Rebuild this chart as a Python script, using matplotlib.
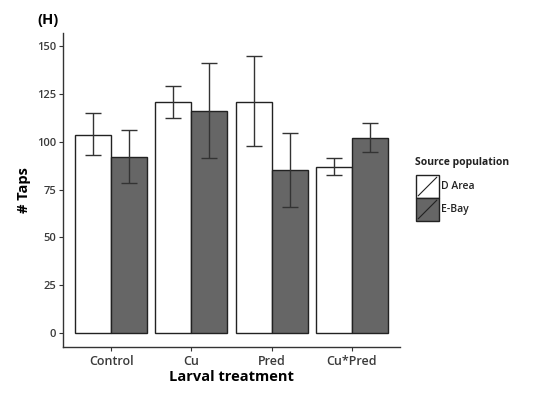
import matplotlib

matplotlib.use("Agg")
import matplotlib.pyplot as plt
import numpy as np
from matplotlib.patches import Rectangle
from matplotlib.lines import Line2D

treatments = ["Control", "Cu", "Pred", "Cu*Pred"]
populations = ["D Area", "E-Bay"]
d_area_mean = [103.7, 120.8, 121.1, 86.9]
d_area_low = [93.2, 112.4, 97.7, 82.7]
d_area_high = [114.9, 129.5, 144.9, 91.8]
e_bay_mean = [92.1, 116.3, 85.5, 101.9]
e_bay_low = [78.5, 91.8, 66.2, 94.5]
e_bay_high = [106.1, 141.4, 104.7, 110.0]
y_ticks = [0, 25, 50, 75, 100, 125, 150]

fill_colors = ["#ffffff", "#666666"]
edge_color = "#222222"
text_gray = "#3a3a3a"

plt.rcParams["font.family"] = ["Open Sans", "DejaVu Sans"]

fig = plt.figure(figsize=(5.36, 3.93), dpi=100)
ax = fig.add_axes([63 / 536, 1 - 347 / 393, (400 - 63) / 536, (347 - 33) / 393])

x = np.arange(1, len(treatments) + 1)
width = 0.45
series = [
    (d_area_mean, d_area_low, d_area_high),
    (e_bay_mean, e_bay_low, e_bay_high),
]
for idx, (mean, low, high) in enumerate(series):
    pos = x + (idx - 0.5) * width
    mean = np.array(mean)
    ax.bar(pos, mean, width=width, color=fill_colors[idx], edgecolor=edge_color, linewidth=1.0, zorder=2)
    yerr = np.vstack([mean - np.array(low), np.array(high) - mean])
    ax.errorbar(pos, mean, yerr=yerr, fmt="none", ecolor="#333333", elinewidth=1.0, capsize=5.5, capthick=1.0, zorder=3)

ax.set_xlim(0.4, 4.6)
ax.set_ylim(-7.3, 157)
ax.set_xticks(x, treatments)
ax.set_yticks(y_ticks)
ax.tick_params(axis="both", colors="#333333", labelcolor=text_gray, labelsize=8, length=3, width=0.8, pad=2)
ax.tick_params(axis="x", labelsize=9, pad=3)
for lbl in ax.get_xticklabels() + ax.get_yticklabels():
    lbl.set_fontweight("semibold")
for side in ["top", "right"]:
    ax.spines[side].set_visible(False)
for side in ["left", "bottom"]:
    ax.spines[side].set_color("#333333")
    ax.spines[side].set_linewidth(1.0)

ax.set_xlabel("Larval treatment", fontsize=10.5, fontweight="bold", labelpad=1)
ax.set_ylabel("# Taps", fontsize=10.5, fontweight="bold", labelpad=4)
fig.text(37 / 536, 1 - 20 / 393, "(H)", fontsize=10.5, fontweight="bold", va="center", ha="left")

# legend drawn by hand, ggplot-style keys with a diagonal slash
fig.text(415 / 536, 1 - 163 / 393, "Source population", fontsize=7.5, fontweight="bold", va="center", ha="left", color="#222222")
key_w, key_h = 23 / 536, 23 / 393
for idx, label in enumerate(populations):
    kx = 416 / 536
    ky = 1 - (175 + 23 * (idx + 1)) / 393
    fig.add_artist(Rectangle((kx, ky), key_w, key_h, transform=fig.transFigure,
                             facecolor=fill_colors[idx], edgecolor=edge_color, linewidth=1.0))
    fig.add_artist(Line2D([kx + 0.1 * key_w, kx + 0.9 * key_w], [ky + 0.1 * key_h, ky + 0.9 * key_h],
                          transform=fig.transFigure, color=edge_color, linewidth=0.8))
    fig.text(kx + key_w + 2 / 536, ky + key_h / 2, label, fontsize=7.5, fontweight="semibold", va="center", ha="left", color="#222222")

fig.savefig("out.png", dpi=100)
